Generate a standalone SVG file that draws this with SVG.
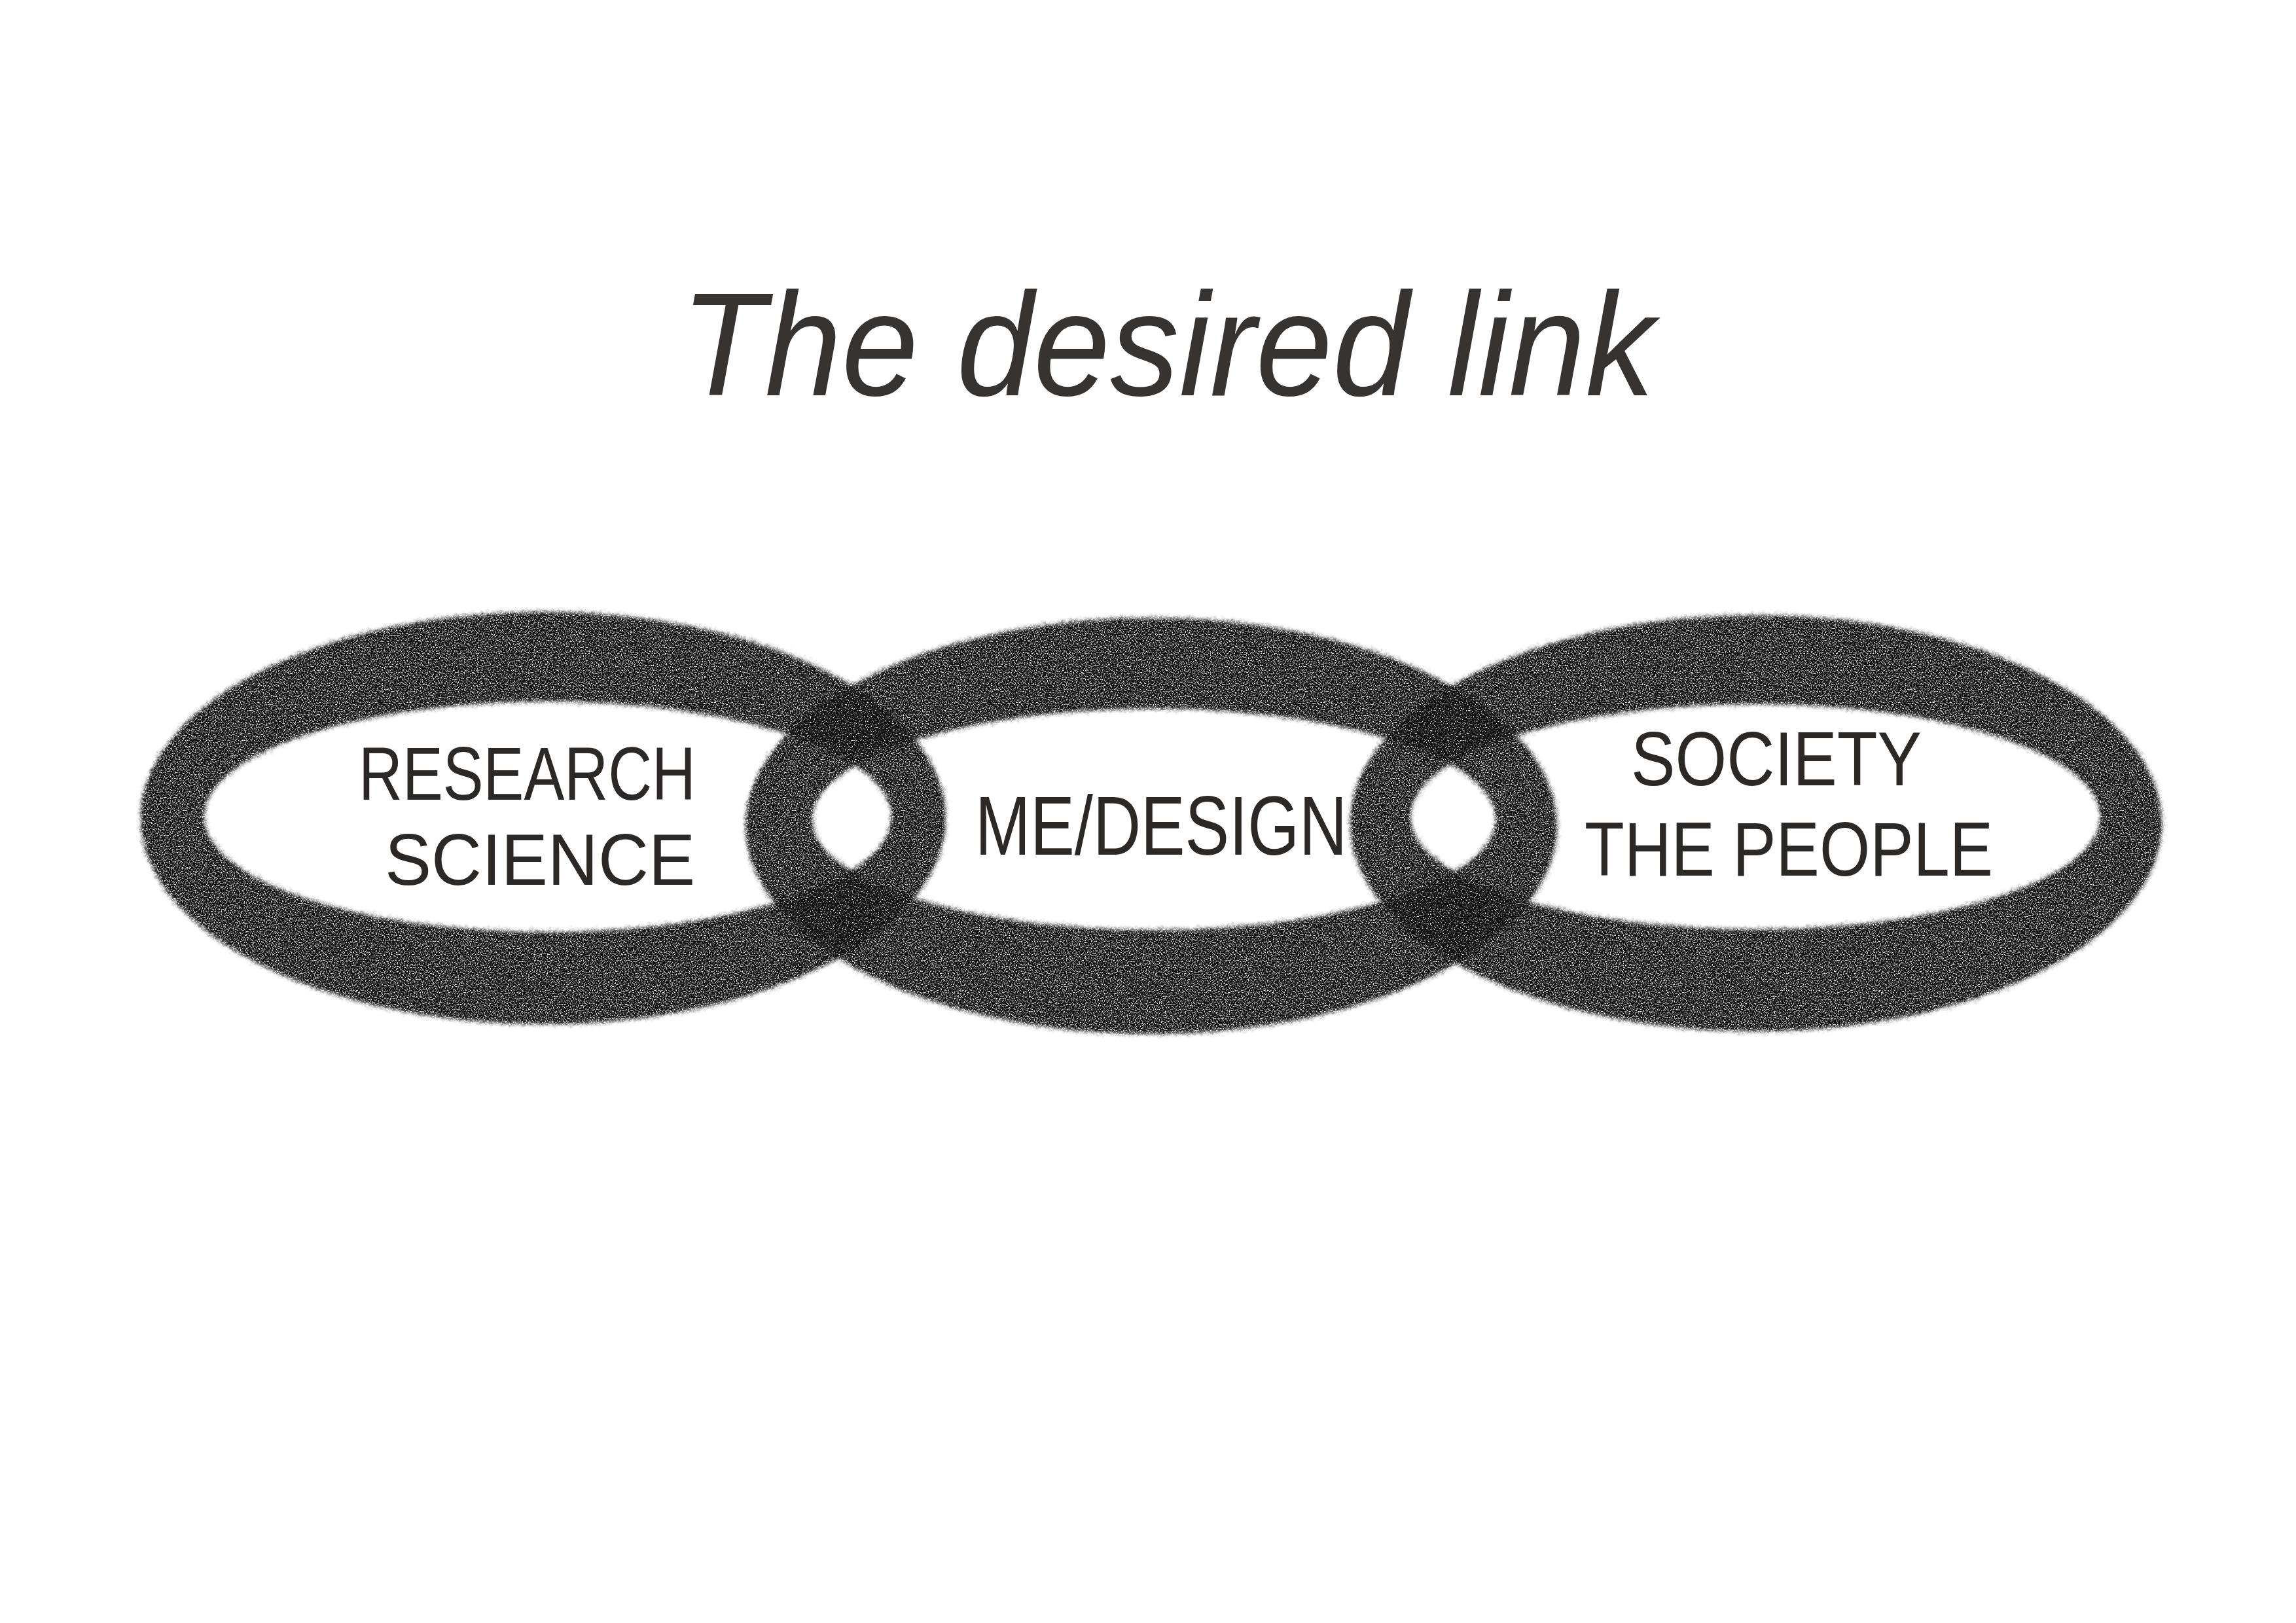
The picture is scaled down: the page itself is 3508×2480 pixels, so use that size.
<svg xmlns="http://www.w3.org/2000/svg" width="3508" height="2480" viewBox="0 0 3508 2480">
  <style>
    .ring { fill: #100c0a; fill-rule: evenodd; filter: url(#chalk); }
    .lbl { font-family: "Liberation Sans Narrow", "Liberation Sans", Arial, sans-serif; fill: #2c2826; font-weight: normal; }
    .title { font-family: "Liberation Sans", Arial, sans-serif; font-style: italic; fill: #363331; }
  </style>
  <defs>
    <filter id="chalk" x="-5%" y="-8%" width="110%" height="116%">
      <feTurbulence type="fractalNoise" baseFrequency="0.55" numOctaves="2" seed="7" result="noise"/>
      <feDisplacementMap in="SourceGraphic" in2="noise" scale="24" xChannelSelector="R" yChannelSelector="G" result="rough"/>
      <feGaussianBlur in="rough" stdDeviation="1.5" result="soft"/>
      <feColorMatrix in="noise" type="matrix" values="0 0 0 0 0  0 0 0 0 0  0 0 0 0 0  4 0 0 0 -1.05" result="speck"/>
      <feComposite in="soft" in2="speck" operator="in"/>
    </filter>
  </defs>
  <rect width="3508" height="2480" fill="#ffffff"/>

  <g id="title">
    <text class="title" x="1040" y="604" font-size="225" textLength="1488" lengthAdjust="spacingAndGlyphs">The desired link</text>
  </g>

  <g id="node-research">
    <path class="ring" d="M215,1250 A615,315 0 1,0 1445,1250 A615,315 0 1,0 215,1250 Z M312,1248 A525,176 0 1,0 1362,1248 A525,176 0 1,0 312,1248 Z"/>
    <text class="lbl" x="548" y="1222" font-size="115" textLength="515" lengthAdjust="spacingAndGlyphs">RESEARCH</text>
    <text class="lbl" x="588" y="1352" font-size="112" textLength="474" lengthAdjust="spacingAndGlyphs">SCIENCE</text>
  </g>

  <g id="node-design">
    <path class="ring" d="M1139,1262 A620,318 0 1,0 2379,1262 A620,318 0 1,0 1139,1262 Z M1241,1252 A522,169 0 1,0 2285,1252 A522,169 0 1,0 1241,1252 Z"/>
    <text class="lbl" x="1490" y="1306" font-size="128" textLength="568" lengthAdjust="spacingAndGlyphs">ME/DESIGN</text>
  </g>

  <g id="node-society">
    <path class="ring" d="M2063,1258 A620,318 0 1,0 3303,1258 A620,318 0 1,0 2063,1258 Z M2155,1248 A527,172 0 1,0 3209,1248 A527,172 0 1,0 2155,1248 Z"/>
    <text class="lbl" x="2492" y="1200" font-size="116" textLength="444" lengthAdjust="spacingAndGlyphs">SOCIETY</text>
    <text class="lbl" x="2421" y="1338" font-size="116" textLength="624" lengthAdjust="spacingAndGlyphs">THE PEOPLE</text>
  </g>
</svg>
